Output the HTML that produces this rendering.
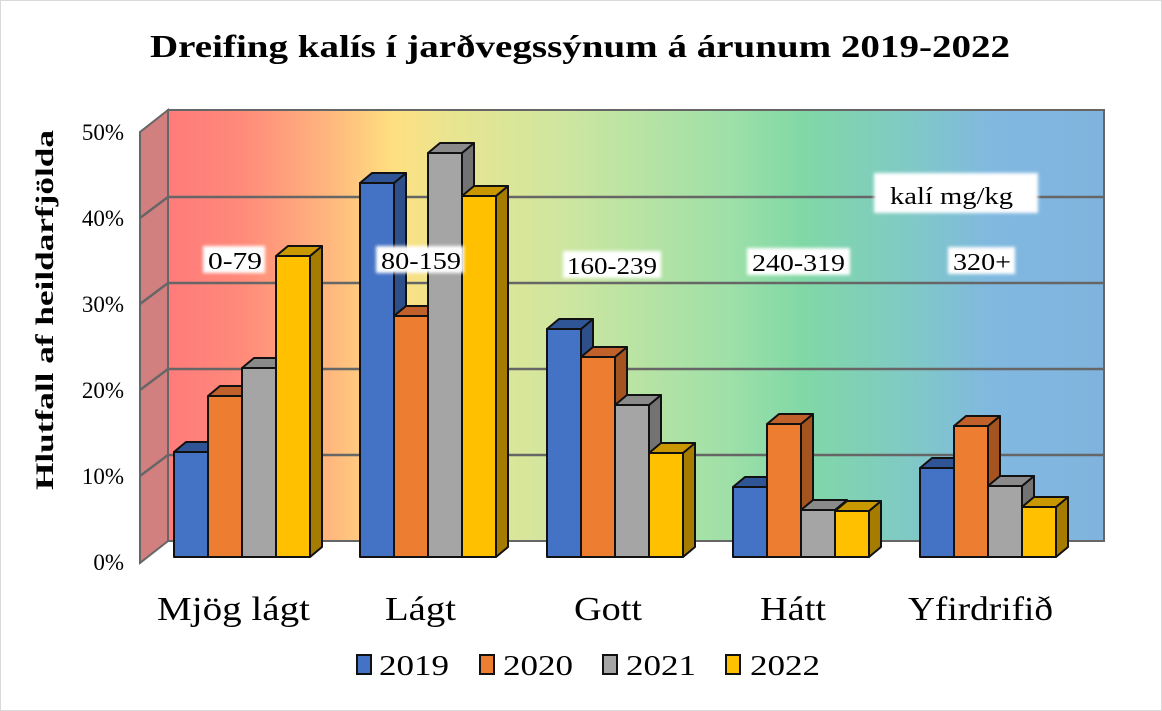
<!DOCTYPE html>
<html><head><meta charset="utf-8"><style>
html,body{margin:0;padding:0;background:#fff;}
svg{display:block;}
text{font-family:"Liberation Serif",serif;fill:#000;}
</style></head><body>
<svg width="1162" height="711" viewBox="0 0 1162 711" xmlns="http://www.w3.org/2000/svg">
<defs>
<linearGradient id="bg" x1="168" y1="0" x2="1104" y2="0" gradientUnits="userSpaceOnUse">
<stop offset="0" stop-color="#ff7b7b"/>
<stop offset="0.08" stop-color="#ff8a7a"/>
<stop offset="0.17" stop-color="#ffb57e"/>
<stop offset="0.24" stop-color="#ffdf80"/>
<stop offset="0.3" stop-color="#e9e590"/>
<stop offset="0.42" stop-color="#cfe6a0"/>
<stop offset="0.6" stop-color="#9ee0a8"/>
<stop offset="0.68" stop-color="#80d8a6"/>
<stop offset="0.8" stop-color="#80c8c8"/>
<stop offset="0.88" stop-color="#80b8e0"/>
<stop offset="1" stop-color="#80b4de"/>
</linearGradient>
<filter id="gl" x="-10%" y="-20%" width="120%" height="140%"><feGaussianBlur stdDeviation="1.5"/></filter>
</defs>
<rect x="0.5" y="0.5" width="1161" height="710" fill="#fff" stroke="#d9d9d9"/>
<text x="150" y="57" font-size="32" font-weight="bold" textLength="860" lengthAdjust="spacingAndGlyphs">Dreifing kalís í jarðvegssýnum á árunum 2019-2022</text>
<polygon points="140,132 168,110 168,541 140,563" fill="#d2807f" stroke="#666" stroke-width="2"/>
<rect x="168" y="110" width="936" height="431" fill="url(#bg)" stroke="#666" stroke-width="2"/>
<g stroke="#666" stroke-width="2.5">
<line x1="140" y1="218" x2="168" y2="197"/><line x1="168" y1="197" x2="1104" y2="197"/>
<line x1="140" y1="304" x2="168" y2="283"/><line x1="168" y1="283" x2="1104" y2="283"/>
<line x1="140" y1="390" x2="168" y2="369"/><line x1="168" y1="369" x2="1104" y2="369"/>
<line x1="140" y1="476" x2="168" y2="455"/><line x1="168" y1="455" x2="1104" y2="455"/>
</g>

<g stroke="#111" stroke-width="2" stroke-linejoin="round">
<g transform="translate(174,0)"><polygon points="34,452 46,442 46,547 34,557" fill="#2f4f8a"/><polygon points="0,452 12,442 46,442 34,452" fill="#2f5597"/><rect x="0" y="452" width="34" height="105" fill="#4472c4"/></g>
<g transform="translate(208,0)"><polygon points="34,396 46,386 46,547 34,557" fill="#a5541f"/><polygon points="0,396 12,386 46,386 34,396" fill="#c0602a"/><rect x="0" y="396" width="34" height="161" fill="#ed7d31"/></g>
<g transform="translate(242,0)"><polygon points="34,368 46,358 46,547 34,557" fill="#737373"/><polygon points="0,368 12,358 46,358 34,368" fill="#8a8a8a"/><rect x="0" y="368" width="34" height="189" fill="#a5a5a5"/></g>
<g transform="translate(276,0)"><polygon points="34,256 46,246 46,547 34,557" fill="#a67c00"/><polygon points="0,256 12,246 46,246 34,256" fill="#c99700"/><rect x="0" y="256" width="34" height="301" fill="#ffc000"/></g>
<g transform="translate(360,0)"><polygon points="34,183 46,173 46,547 34,557" fill="#2f4f8a"/><polygon points="0,183 12,173 46,173 34,183" fill="#2f5597"/><rect x="0" y="183" width="34" height="374" fill="#4472c4"/></g>
<g transform="translate(394,0)"><polygon points="34,316 46,306 46,547 34,557" fill="#a5541f"/><polygon points="0,316 12,306 46,306 34,316" fill="#c0602a"/><rect x="0" y="316" width="34" height="241" fill="#ed7d31"/></g>
<g transform="translate(428,0)"><polygon points="34,153 46,143 46,547 34,557" fill="#737373"/><polygon points="0,153 12,143 46,143 34,153" fill="#8a8a8a"/><rect x="0" y="153" width="34" height="404" fill="#a5a5a5"/></g>
<g transform="translate(462,0)"><polygon points="34,196 46,186 46,547 34,557" fill="#a67c00"/><polygon points="0,196 12,186 46,186 34,196" fill="#c99700"/><rect x="0" y="196" width="34" height="361" fill="#ffc000"/></g>
<g transform="translate(547,0)"><polygon points="34,329 46,319 46,547 34,557" fill="#2f4f8a"/><polygon points="0,329 12,319 46,319 34,329" fill="#2f5597"/><rect x="0" y="329" width="34" height="228" fill="#4472c4"/></g>
<g transform="translate(581,0)"><polygon points="34,357 46,347 46,547 34,557" fill="#a5541f"/><polygon points="0,357 12,347 46,347 34,357" fill="#c0602a"/><rect x="0" y="357" width="34" height="200" fill="#ed7d31"/></g>
<g transform="translate(615,0)"><polygon points="34,405 46,395 46,547 34,557" fill="#737373"/><polygon points="0,405 12,395 46,395 34,405" fill="#8a8a8a"/><rect x="0" y="405" width="34" height="152" fill="#a5a5a5"/></g>
<g transform="translate(649,0)"><polygon points="34,453 46,443 46,547 34,557" fill="#a67c00"/><polygon points="0,453 12,443 46,443 34,453" fill="#c99700"/><rect x="0" y="453" width="34" height="104" fill="#ffc000"/></g>
<g transform="translate(733,0)"><polygon points="34,487 46,477 46,547 34,557" fill="#2f4f8a"/><polygon points="0,487 12,477 46,477 34,487" fill="#2f5597"/><rect x="0" y="487" width="34" height="70" fill="#4472c4"/></g>
<g transform="translate(767,0)"><polygon points="34,424 46,414 46,547 34,557" fill="#a5541f"/><polygon points="0,424 12,414 46,414 34,424" fill="#c0602a"/><rect x="0" y="424" width="34" height="133" fill="#ed7d31"/></g>
<g transform="translate(801,0)"><polygon points="34,510 46,500 46,547 34,557" fill="#737373"/><polygon points="0,510 12,500 46,500 34,510" fill="#8a8a8a"/><rect x="0" y="510" width="34" height="47" fill="#a5a5a5"/></g>
<g transform="translate(835,0)"><polygon points="34,511 46,501 46,547 34,557" fill="#a67c00"/><polygon points="0,511 12,501 46,501 34,511" fill="#c99700"/><rect x="0" y="511" width="34" height="46" fill="#ffc000"/></g>
<g transform="translate(920,0)"><polygon points="34,468 46,458 46,547 34,557" fill="#2f4f8a"/><polygon points="0,468 12,458 46,458 34,468" fill="#2f5597"/><rect x="0" y="468" width="34" height="89" fill="#4472c4"/></g>
<g transform="translate(954,0)"><polygon points="34,426 46,416 46,547 34,557" fill="#a5541f"/><polygon points="0,426 12,416 46,416 34,426" fill="#c0602a"/><rect x="0" y="426" width="34" height="131" fill="#ed7d31"/></g>
<g transform="translate(988,0)"><polygon points="34,486 46,476 46,547 34,557" fill="#737373"/><polygon points="0,486 12,476 46,476 34,486" fill="#8a8a8a"/><rect x="0" y="486" width="34" height="71" fill="#a5a5a5"/></g>
<g transform="translate(1022,0)"><polygon points="34,507 46,497 46,547 34,557" fill="#a67c00"/><polygon points="0,507 12,497 46,497 34,507" fill="#c99700"/><rect x="0" y="507" width="34" height="50" fill="#ffc000"/></g>
</g>

<rect x="203" y="246" width="62" height="27" fill="#fff" filter="url(#gl)"/>
<text x="208" y="269" font-size="24" textLength="54" lengthAdjust="spacingAndGlyphs">0-79</text>
<rect x="376" y="246" width="88" height="27" fill="#fff" filter="url(#gl)"/>
<text x="381" y="269" font-size="24" textLength="80" lengthAdjust="spacingAndGlyphs">80-159</text>
<rect x="563" y="251" width="98" height="27" fill="#fff" filter="url(#gl)"/>
<text x="567" y="274" font-size="24" textLength="90" lengthAdjust="spacingAndGlyphs">160-239</text>
<rect x="747" y="248" width="103" height="27" fill="#fff" filter="url(#gl)"/>
<text x="752" y="271" font-size="24" textLength="93" lengthAdjust="spacingAndGlyphs">240-319</text>
<rect x="948" y="247" width="67" height="27" fill="#fff" filter="url(#gl)"/>
<text x="953" y="270" font-size="24" textLength="58" lengthAdjust="spacingAndGlyphs">320+</text>
<rect x="874" y="173" width="164" height="40" fill="#fff" filter="url(#gl)"/>
<text x="890" y="204" font-size="24" textLength="123" lengthAdjust="spacingAndGlyphs">kalí mg/kg</text>

<g font-size="23" text-anchor="end">
<text x="124" y="570">0%</text>
<text x="124" y="484">10%</text>
<text x="124" y="398">20%</text>
<text x="124" y="312">30%</text>
<text x="124" y="226">40%</text>
<text x="124" y="140">50%</text>
</g>
<text transform="translate(53,490) rotate(-90)" font-size="25" font-weight="bold" textLength="360" lengthAdjust="spacingAndGlyphs">Hlutfall  af heildarfjölda</text>
<g font-size="34">
<text x="157" y="620" textLength="153" lengthAdjust="spacingAndGlyphs">Mjög lágt</text>
<text x="385" y="620" textLength="71" lengthAdjust="spacingAndGlyphs">Lágt</text>
<text x="574" y="620" textLength="68" lengthAdjust="spacingAndGlyphs">Gott</text>
<text x="760" y="620" textLength="66" lengthAdjust="spacingAndGlyphs">Hátt</text>
<text x="908" y="620" textLength="145" lengthAdjust="spacingAndGlyphs">Yfirdrifið</text>
</g>
<g stroke="#111" stroke-width="2">
<rect x="357" y="655" width="14" height="19" fill="#4472c4"/>
<rect x="480" y="655" width="14" height="19" fill="#ed7d31"/>
<rect x="603" y="655" width="14" height="19" fill="#a5a5a5"/>
<rect x="726" y="655" width="14" height="19" fill="#ffc000"/>
</g>
<g font-size="28">
<text x="379" y="675" textLength="70" lengthAdjust="spacingAndGlyphs">2019</text>
<text x="503" y="675" textLength="70" lengthAdjust="spacingAndGlyphs">2020</text>
<text x="626" y="675" textLength="70" lengthAdjust="spacingAndGlyphs">2021</text>
<text x="750" y="675" textLength="70" lengthAdjust="spacingAndGlyphs">2022</text>
</g>
</svg>
</body></html>
